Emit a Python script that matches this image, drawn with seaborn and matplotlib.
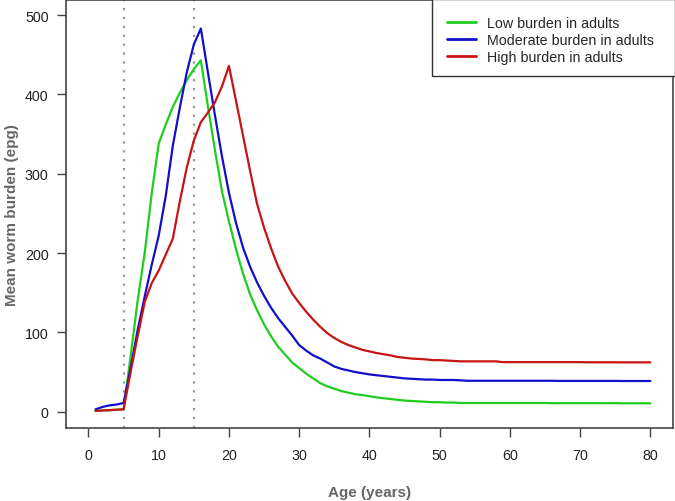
import numpy as np
import pandas as pd
import matplotlib
matplotlib.use("Agg")
import matplotlib.pyplot as plt
from matplotlib.patches import Rectangle
import seaborn as sns

ages = list(range(1, 81))

low = [1, 1.5, 2, 2.5, 3, 70, 140, 200, 275, 338,
       362, 384, 402, 418, 432, 443, 385, 330, 278, 240,
       205, 174, 148, 128, 110, 95, 82, 72, 62, 55,
       48, 42, 36, 32, 29, 26, 24, 22, 21, 19.5,
       18, 17, 16, 15, 14, 13.5, 13, 12.5, 12, 12,
       11.5, 11.5, 11, 11, 11, 11, 11, 11, 11, 11,
       11, 11, 11, 11, 11, 10.8, 10.8, 10.8, 10.8, 10.8,
       10.8, 10.8, 10.8, 10.8, 10.8, 10.6, 10.6, 10.6, 10.6, 10.6]

moderate = [3, 6, 8, 9, 11, 55, 103, 145, 185, 222,
            272, 335, 383, 428, 463, 483, 428, 374, 322, 276,
            238, 207, 183, 163, 146, 131, 118, 107, 96, 84,
            77, 71, 67, 62, 57, 54, 52, 50, 48.5, 47,
            46, 45, 44, 43, 42, 41.5, 41, 40.5, 40.5, 40,
            40, 40, 39.5, 39, 39, 39, 39, 39, 39, 39,
            39, 39, 39, 39, 39, 39, 38.8, 38.8, 38.8, 38.8,
            38.8, 38.8, 38.8, 38.8, 38.8, 38.7, 38.7, 38.7, 38.7, 38.7]

high = [1, 1.5, 2, 2.5, 3, 50, 95, 138, 162, 178,
        198, 218, 265, 308, 342, 365, 377, 390, 410, 436,
        392, 348, 304, 262, 232, 206, 183, 165, 149, 137,
        126, 116, 107, 99, 93, 88, 84, 81, 78, 76,
        74, 72.5, 71, 69, 68, 67, 66.5, 66, 65, 65,
        64.5, 64, 63.5, 63.5, 63.5, 63.5, 63.5, 63.5, 62.5, 62.5,
        62.5, 62.5, 62.5, 62.5, 62.5, 62.5, 62.5, 62.5, 62.5, 62.5,
        62.3, 62.3, 62.3, 62.3, 62.3, 62.2, 62.2, 62.2, 62.2, 62.2]

series_names = ["Low burden in adults", "Moderate burden in adults", "High burden in adults"]
vlines = [5, 15]
x_ticks = [0, 10, 20, 30, 40, 50, 60, 70, 80]
y_ticks = [0, 100, 200, 300, 400, 500]

df = pd.concat([
    pd.DataFrame({"age": ages, "burden": vals, "group": name})
    for name, vals in zip(series_names, [low, moderate, high])
])

sns.set_style("white")
plt.rcParams["font.family"] = ["Liberation Sans", "DejaVu Sans"]

W, H = 675, 502
fig = plt.figure(figsize=(W / 100, H / 100), dpi=100)
ax = fig.add_axes([0.0978, 0.145, 0.899, 0.853])

palette = {series_names[0]: "#1fcd1f", series_names[1]: "#1010c8", series_names[2]: "#c81414"}
sns.lineplot(data=df, x="age", y="burden", hue="group", palette=palette,
             hue_order=series_names, linewidth=1.6, ax=ax, legend=True)

for v in vlines:
    ax.axvline(v, color="#999999", linestyle=(0, (1, 3)), linewidth=1.6, zorder=0)

ax.set_xlim(-3.2, 83.2)
ax.set_ylim(-20.8, 519)
ax.set_xticks(x_ticks)
ax.set_yticks(y_ticks)
ax.tick_params(axis="both", direction="out", length=6.5, width=1, color="#444444",
               labelsize=10.3, labelcolor="#222222", bottom=True, left=True)
ax.tick_params(axis="x", pad=7.5)
ax.tick_params(axis="y", pad=6)
for s in ax.spines.values():
    s.set_color("#444444")
    s.set_linewidth(1.2)

ax.set_xlabel("Age (years)", fontsize=11, fontweight="bold", color="#666666")
ax.set_ylabel("Mean worm burden (epg)", fontsize=11, fontweight="bold", color="#666666")
ax.xaxis.set_label_coords(0.5, -0.133)
ax.yaxis.set_label_coords(-0.078, 0.5)

handles, labels = ax.get_legend_handles_labels()
ax.get_legend().remove()

# legend frame (R-style box)
frame = Rectangle((432 / W, 1 - 77 / H), 243 / W, 77 / H, transform=fig.transFigure,
                  facecolor="white", edgecolor="#333333", linewidth=1.0,
                  clip_on=False, zorder=4)
ax.add_patch(frame)

leg = ax.legend(handles, labels, loc="upper left",
                bbox_to_anchor=(446.7 / W, 1 - 17.0 / H), bbox_transform=fig.transFigure,
                borderaxespad=0, borderpad=0, frameon=False,
                fontsize=10.3, handlelength=2.05, handletextpad=0.75,
                labelspacing=0.22, title=None)
leg.set_zorder(5)
for line in leg.get_lines():
    line.set_linewidth(2)

fig.savefig("out.png", dpi=100)
